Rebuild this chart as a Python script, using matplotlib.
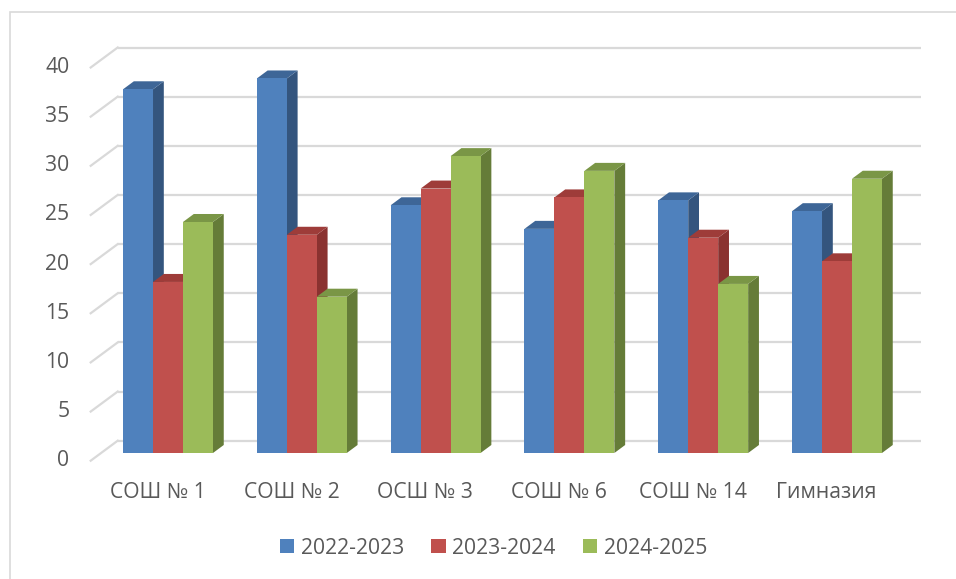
import matplotlib
matplotlib.use("Agg")
import matplotlib.pyplot as plt
from matplotlib.patches import Polygon, Patch, Rectangle

categories = ["СОШ № 1", "СОШ № 2", "ОСШ № 3", "СОШ № 6", "СОШ № 14", "Гимназия"]
series = ["2022-2023", "2023-2024", "2024-2025"]
v2022 = [37.0, 38.1, 25.2, 22.8, 25.7, 24.6]
v2023 = [17.4, 22.2, 26.9, 26.0, 21.9, 19.5]
v2024 = [23.5, 15.9, 30.2, 28.7, 17.2, 27.9]
yticks = [0, 5, 10, 15, 20, 25, 30, 35, 40]

front_c = ["#4F81BD", "#C0504D", "#9BBB59"]
side_c = ["#34557E", "#8A3230", "#657C38"]
top_c = ["#3E6697", "#9E3C39", "#7A9646"]

plt.rcParams['font.family'] = ['Open Sans', 'DejaVu Sans']
TXT = "#595959"
FS = 15.2

W, H = 956, 579
fig = plt.figure(figsize=(W / 100, H / 100), dpi=100)

# pixel geometry
px_x0, px_cat = 90.7, 133.8
px_y0, px_unit = 460.7, 9.83
DXc = 27 / px_cat
DYv = 20 / px_unit

L, R, T, B = 80, 930, 40, 470
ax = fig.add_axes([L / W, (H - B) / H, (R - L) / W, (B - T) / H])
ax.set_xlim((L - px_x0) / px_cat, (R - px_x0) / px_cat)
ax.set_ylim((px_y0 - B) / px_unit, (px_y0 - T) / px_unit)
ax.axis("off")

# chart area border (left & top visible)
fig.patches.append(Rectangle((10 / W, -0.1), 1.2, 1 - 12 / H + 0.1, transform=fig.transFigure,
                             fill=False, edgecolor="#D9D9D9", linewidth=1.2, zorder=0))

ncat = len(categories)
grid_c = "#D9D9D9"
for v in yticks:
    ax.plot([DXc, ncat + DXc], [v + DYv, v + DYv], color=grid_c, lw=1.6, zorder=1,
            solid_capstyle="butt")
    ax.plot([0, DXc], [v, v + DYv], color=grid_c, lw=1.6, zorder=1)
    ax.text(-0.16, v, str(v), ha="right", va="center", fontsize=FS, color=TXT)

# bars
d0, d1 = 0.385, 0.785
gap = 0.164
bw = (1 - 2 * gap) / 3
data = [v2022, v2023, v2024]
z = 2
for i in range(ncat):
    for s in range(3):
        val = data[s][i]
        x = i + d0 * DXc + gap + s * bw
        yb = d0 * DYv
        ax.bar([x], [val], bottom=yb, width=bw, align="edge", color=front_c[s],
               edgecolor="none", zorder=z + 0.5)
        ddx = (d1 - d0) * DXc
        ddy = (d1 - d0) * DYv
        yt = yb + val
        side = Polygon([(x + bw, yb), (x + bw + ddx, yb + ddy), (x + bw + ddx, yt + ddy),
                        (x + bw, yt)], closed=True, facecolor=side_c[s], edgecolor="none",
                       zorder=z)
        top = Polygon([(x, yt), (x + bw, yt), (x + bw + ddx, yt + ddy), (x + ddx, yt + ddy)],
                      closed=True, facecolor=top_c[s], edgecolor="none", zorder=z)
        ax.add_patch(side)
        ax.add_patch(top)
        z += 1
    ax.text(i + 0.5, (px_y0 - 493) / px_unit, categories[i], ha="center", va="center",
            fontsize=FS, color=TXT)

handles = [Patch(facecolor=c, edgecolor="none") for c in front_c]
fig.legend(handles, series, loc="center", bbox_to_anchor=(493.5 / W, 1 - 548 / H), ncol=3,
           frameon=False, fontsize=FS, labelcolor=TXT, handlelength=0.68, handleheight=0.68,
           handletextpad=0.3, columnspacing=1.3)

fig.savefig("out.png", dpi=100)
